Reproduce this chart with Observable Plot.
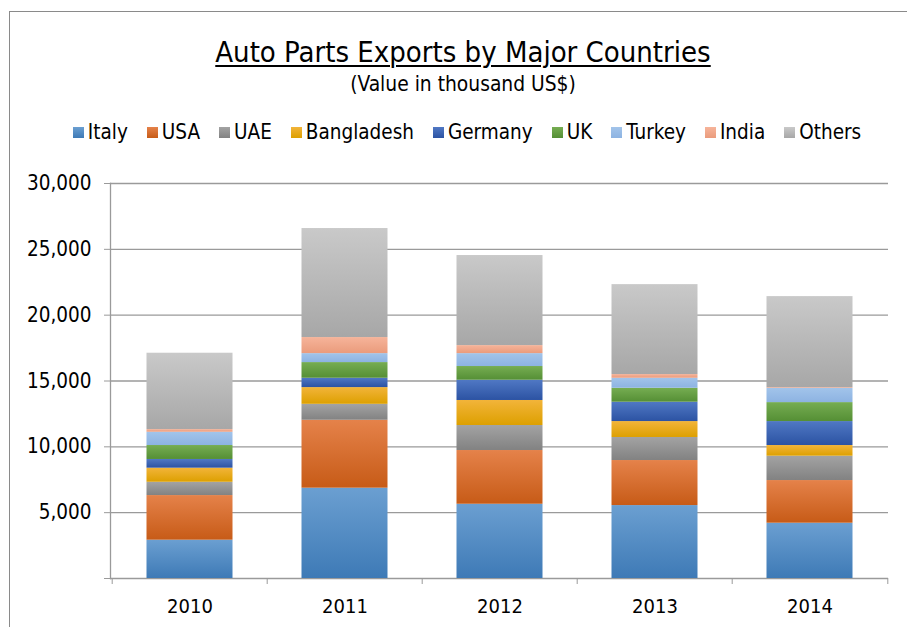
<!DOCTYPE html>
<html>
<head>
<meta charset="utf-8">
<script src="https://cdn.jsdelivr.net/npm/d3@7"></script>
<script src="https://cdn.jsdelivr.net/npm/@observablehq/plot@0.6"></script>
<style>
  html, body { margin: 0; padding: 0; width: 907px; height: 627px; overflow: hidden; background: #fff; }
  body { position: relative; font-family: "DejaVu Sans Condensed", "DejaVu Sans", sans-serif; font-stretch: condensed; color: #000; }
  #frame { position: absolute; left: 9px; top: 11px; width: 1000px; height: 1000px; border: 1.5px solid #8a8a8a; box-sizing: border-box; }
  #title { position: absolute; left: 0; width: 926px; top: 35px; text-align: center; font-size: 29px; line-height: 34px; text-decoration: underline; text-decoration-thickness: 1.5px; text-underline-offset: 3px; }
  #subtitle { position: absolute; left: 0; width: 926px; top: 71px; text-align: center; font-size: 20.8px; line-height: 26px; }
  #legend { position: absolute; left: 0; width: 934px; top: 119px; display: flex; justify-content: center; font-size: 20.5px; line-height: 26px; }
  #legend .item { display: flex; align-items: center; margin: 0 9.5px; }
  #legend .sw { width: 11px; height: 11px; margin-right: 4px; }
  #chart { position: absolute; left: 0; top: 170px; }
</style>
</head>
<body>
<div id="frame"></div>
<div id="title">Auto Parts Exports by Major Countries</div>
<div id="subtitle">(Value in thousand US$)</div>
<div id="legend"></div>
<div id="chart"></div>
<svg width="0" height="0" style="position:absolute">
  <defs id="grads"></defs>
</svg>
<script>
// ---- data ----
const years = ["2010", "2011", "2012", "2013", "2014"];
const countries = ["Italy", "USA", "UAE", "Bangladesh", "Germany", "UK", "Turkey", "India", "Others"];
const italy      = [2910, 6860, 5640, 5540, 4200];
const usa        = [3390, 5160, 4080, 3420, 3240];
const uae        = [1010, 1210, 1900, 1750, 1850];
const bangladesh = [1070, 1270, 1900, 1210, 810];
const germany    = [660, 710, 1540, 1470, 1820];
const uk         = [1060, 1190, 1040, 1060, 1440];
const turkey     = [1010, 680, 980, 760, 1090];
const india      = [200, 1220, 610, 280, 50];
const others     = [5800, 8280, 6840, 6830, 6910];
const yTicks = [0, 5000, 10000, 15000, 20000, 25000, 30000];

// ---- styles ----
const topColors = ["#6b9fd1", "#e5824a", "#a3a3a3", "#f2b43a", "#5078c4", "#76ad52", "#a2c4ea", "#f6b49a", "#c9c9c9"];
const botColors = ["#3e7ab6", "#c75b17", "#828282", "#dda000", "#2c53a3", "#558f35", "#8db3e2", "#ea9b7c", "#a7a7a7"];

const seriesValues = [italy, usa, uae, bangladesh, germany, uk, turkey, india, others];
const table = [];
countries.forEach((c, i) => years.forEach((y, j) => table.push({year: y, country: c, value: seriesValues[i][j]})));

// gradients
const defs = document.getElementById("grads");
const NS = "http://www.w3.org/2000/svg";
countries.forEach((c, i) => {
  const g = document.createElementNS(NS, "linearGradient");
  g.setAttribute("id", "g" + i);
  g.setAttribute("x1", "0"); g.setAttribute("y1", "0"); g.setAttribute("x2", "0"); g.setAttribute("y2", "1");
  [[0, topColors[i]], [1, botColors[i]]].forEach(([o, col]) => {
    const s = document.createElementNS(NS, "stop");
    s.setAttribute("offset", o); s.setAttribute("stop-color", col);
    g.appendChild(s);
  });
  defs.appendChild(g);
});

// legend
const legend = document.getElementById("legend");
countries.forEach((c, i) => {
  const it = document.createElement("div"); it.className = "item";
  const sw = document.createElement("div"); sw.className = "sw";
  sw.style.background = `linear-gradient(${topColors[i]}, ${botColors[i]})`;
  const tx = document.createElement("span"); tx.textContent = c;
  it.appendChild(sw); it.appendChild(tx); legend.appendChild(it);
});

const W = 907, H = 457, ML = 110, MR = 19, MT = 13, MB = 49;
const band = (W - ML - MR) / years.length;

const chart = Plot.plot({
  width: W, height: H,
  marginLeft: ML, marginRight: MR, marginTop: MT, marginBottom: MB,
  style: {fontFamily: "'DejaVu Sans Condensed', 'DejaVu Sans', sans-serif", fontSize: "20px", color: "#000", background: "transparent"},
  x: {domain: years, padding: 0, label: null},
  y: {domain: [0, 30000], label: null},
  color: {domain: countries, range: countries.map((c, i) => `url(#g${i})`)},
  marks: [
    Plot.ruleY(yTicks, {stroke: "#9a9a9a", strokeWidth: 1.3, strokeOpacity: 1}),
    Plot.barY(table, {x: "year", y: "value", fill: "country", insetLeft: 34.5, insetRight: 34.5}),
    Plot.axisY({ticks: yTicks, tickSize: 6, tickPadding: 13, stroke: "#9a9a9a", strokeOpacity: 1, tickFormat: d => d === 0 ? "" : d3.format(",")(d), label: null, fontSize: 20.5}),
    Plot.axisX({ticks: years, tickSize: 6, dx: -band / 2, stroke: "#9a9a9a", strokeOpacity: 1, text: null, label: null}),
    Plot.axisX({ticks: years.slice(-1), tickSize: 6, dx: band / 2, stroke: "#9a9a9a", strokeOpacity: 1, text: null, label: null}),
    Plot.axisX({ticks: years, tickSize: 0, tickPadding: 20, label: null, fontSize: 20}),
    Plot.frame({anchor: "left", stroke: "#9a9a9a", strokeWidth: 1.3})
  ]
});
document.getElementById("chart").appendChild(chart);
</script>
</body>
</html>
